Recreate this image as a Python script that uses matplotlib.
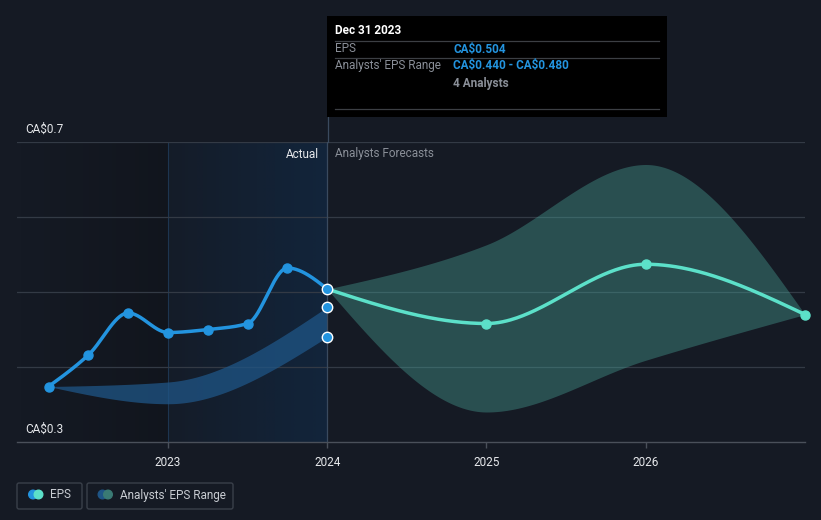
import matplotlib.pyplot as plt
import numpy as np
from matplotlib.patches import Rectangle, FancyBboxPatch, Circle

plt.rcParams['font.family'] = ['Roboto', 'DejaVu Sans']
plt.rcParams['text.parse_math'] = False

# past EPS (quarterly, fractional years)
past_x = [2022.25, 2022.5, 2022.75, 2023.0, 2023.25, 2023.5, 2023.75, 2024.0]
past_eps = [0.374, 0.416, 0.472, 0.446, 0.450, 0.458, 0.532, 0.504]

# past analysts range
past_rng_x = [2022.25, 2023.0, 2024.0]
past_rng_lo = [0.374, 0.351, 0.440]
past_rng_hi = [0.374, 0.380, 0.480]

# forecasts
fc_x = [2024.0, 2025.0, 2026.0, 2027.0]
fc_eps = [0.504, 0.458, 0.537, 0.470]
fc_lo = [0.504, 0.340, 0.409, 0.470]
fc_hi = [0.504, 0.563, 0.670, 0.470]

xtick_years = [2023, 2024, 2025, 2026]

bg = '#151a24'
blue = '#2394df'
teal = '#5ce0c9'


def monotone(x, y, n=80):
    x = np.asarray(x, float)
    y = np.asarray(y, float)
    h = np.diff(x)
    s = np.diff(y) / h
    m = np.zeros(len(x))
    for k in range(1, len(x) - 1):
        p = (s[k - 1] * h[k] + s[k] * h[k - 1]) / (h[k - 1] + h[k])
        m[k] = (np.sign(s[k - 1]) + np.sign(s[k])) * min(abs(s[k - 1]), abs(s[k]), 0.5 * abs(p))
    m[0] = (3 * s[0] - m[1]) / 2 if len(x) > 2 else s[0]
    m[-1] = (3 * s[-1] - m[-2]) / 2 if len(x) > 2 else s[-1]
    xs, ys = [], []
    for k in range(len(x) - 1):
        t = np.linspace(0, 1, n)
        h00 = 2 * t**3 - 3 * t**2 + 1
        h10 = t**3 - 2 * t**2 + t
        h01 = -2 * t**3 + 3 * t**2
        h11 = t**3 - t**2
        xs.append(x[k] + t * h[k])
        ys.append(h00 * y[k] + h10 * h[k] * m[k] + h01 * y[k + 1] + h11 * h[k] * m[k + 1])
    return np.concatenate(xs), np.concatenate(ys)


fig = plt.figure(figsize=(8.21, 5.2), dpi=100)
fig.patch.set_facecolor(bg)
ax = fig.add_axes([17 / 821, 78 / 520, 788 / 821, 300 / 520])
ax.set_facecolor(bg)
ax.set_xlim(2022.052, 2027.0)
ax.set_ylim(0.3, 0.7)

# shaded regions
grad = np.linspace(0, 1, 256)
left = np.zeros((2, 256, 4))
left[..., 3] = grad * 0.18
ax.imshow(left, extent=[2022.052, 2023.0, 0.3, 0.7], aspect='auto', zorder=0)
right = np.zeros((2, 256, 4))
right[..., 0] = 10 / 255
right[..., 1] = 70 / 255
right[..., 2] = 130 / 255
right[..., 3] = 0.05 + grad * 0.2
ax.imshow(right, extent=[2023.0, 2024.0, 0.3, 0.7], aspect='auto', zorder=0)
ax.axvline(2023.0, color='#1d3550', lw=0.8, zorder=1)

# grid
for v in [0.4, 0.5, 0.6, 0.7]:
    ax.axhline(v, color='#333a45', lw=0.9, zorder=1)

# ranges
rx, rlo = monotone(past_rng_x, past_rng_lo)
_, rhi = monotone(past_rng_x, past_rng_hi)
ax.fill_between(rx, rlo, rhi, color='#1f5586', alpha=0.75, lw=0, zorder=2)
fx, flo = monotone(fc_x, fc_lo)
_, fhi = monotone(fc_x, fc_hi)
ax.fill_between(fx, flo, fhi, color='#4aa69a', alpha=0.38, lw=0, zorder=2)

# lines
px, py = monotone(past_x, past_eps)
ax.plot(px, py, color=blue, lw=2.5, zorder=4, solid_capstyle='round')
ax.plot(past_x[:-1], past_eps[:-1], 'o', color=blue, ms=6.5, zorder=5)
fxx, fyy = monotone(fc_x, fc_eps)
ax.plot(fxx, fyy, color=teal, lw=2.5, zorder=4)
ax.plot(fc_x[1:], fc_eps[1:], 'o', color=teal, ms=6.5, zorder=5, clip_on=False)
ax.plot([2024.0] * 3, [past_eps[-1], past_rng_hi[-1], past_rng_lo[-1]], 'o',
        color=blue, mec='white', mew=1.0, ms=7.5, zorder=6)

# axes style
for sp in ['top', 'right', 'left']:
    ax.spines[sp].set_visible(False)
ax.spines['bottom'].set_color('#4a505a')
ax.spines['bottom'].set_linewidth(1)
ax.set_yticks([])
ax.set_xticks(xtick_years)
ax.set_xticklabels([str(y) for y in xtick_years], color='#e6e8eb', fontsize=8.5)
ax.tick_params(axis='x', colors='#4a505a', length=4, width=1, pad=6, labelcolor='#e6e8eb')

ax.text(2022.101, 0.708, 'CA$0.7', color='#e6e8eb', fontsize=8.5, va='bottom', ha='left')
ax.text(2022.101, 0.308, 'CA$0.3', color='#e6e8eb', fontsize=8.5, va='bottom', ha='left')
ax.text(2023.95, 0.684, 'Actual', color='#e6e8eb', fontsize=8.5, va='center', ha='right')
ax.text(2024.05, 0.684, 'Analysts Forecasts', color='#8a8f98', fontsize=8.5, va='center', ha='left')

# overlay for tooltip and legend (pixel coordinates)
ov = fig.add_axes([0, 0, 1, 1], facecolor='none')
ov.set_xlim(0, 821)
ov.set_ylim(520, 0)
ov.axis('off')
ov.plot([327.5, 327.5], [117, 142], color='#3a4a5e', lw=0.9)
ax.axvline(2024.0, color='#3a4a5e', lw=0.9, zorder=3)

ov.add_patch(Rectangle((327, 16), 340, 101, facecolor='#000000', edgecolor='none', zorder=5))
ov.text(335, 31, 'Dec 31 2023', color='white', fontsize=8.5, fontweight='bold', va='center', zorder=6)
for yy in [41, 58, 109]:
    ov.plot([335, 659], [yy, yy], color='#3c3f44', lw=0.9, zorder=6)
ov.text(335, 49, 'EPS', color='#8a8f98', fontsize=8.5, va='center', zorder=6)
ov.text(453, 49, 'CA$0.504', color=blue, fontsize=8.5, fontweight='bold', va='center', zorder=6)
ov.text(335, 66, "Analysts' EPS Range", color='#8a8f98', fontsize=8.5, va='center', zorder=6)
ov.text(453, 66, 'CA$0.440 - CA$0.480', color=blue, fontsize=8.5, fontweight='bold', va='center', zorder=6)
ov.text(453, 83, '4 Analysts', color='#8a8f98', fontsize=8.5, fontweight='bold', va='center', zorder=6)

# legend
for x0, w in [(17, 65), (87, 146)]:
    ov.add_patch(FancyBboxPatch((x0, 483), w, 26, boxstyle='round,pad=0,rounding_size=2',
                                facecolor='none', edgecolor='#3a404a', lw=1))
ov.add_patch(Circle((33, 494.5), 4.3, color=blue))
ov.add_patch(Circle((38.5, 494.5), 4.3, color=teal))
ov.text(50, 495, 'EPS', color='#c8ccd2', fontsize=8.5, va='center')
ov.add_patch(Circle((102.5, 494.5), 4.3, color='#1f5586'))
ov.add_patch(Circle((108, 494.5), 4.3, color='#3a7a74'))
ov.text(120, 495, "Analysts' EPS Range", color='#c8ccd2', fontsize=8.5, va='center')

fig.savefig('out.png', dpi=100, facecolor=bg)
